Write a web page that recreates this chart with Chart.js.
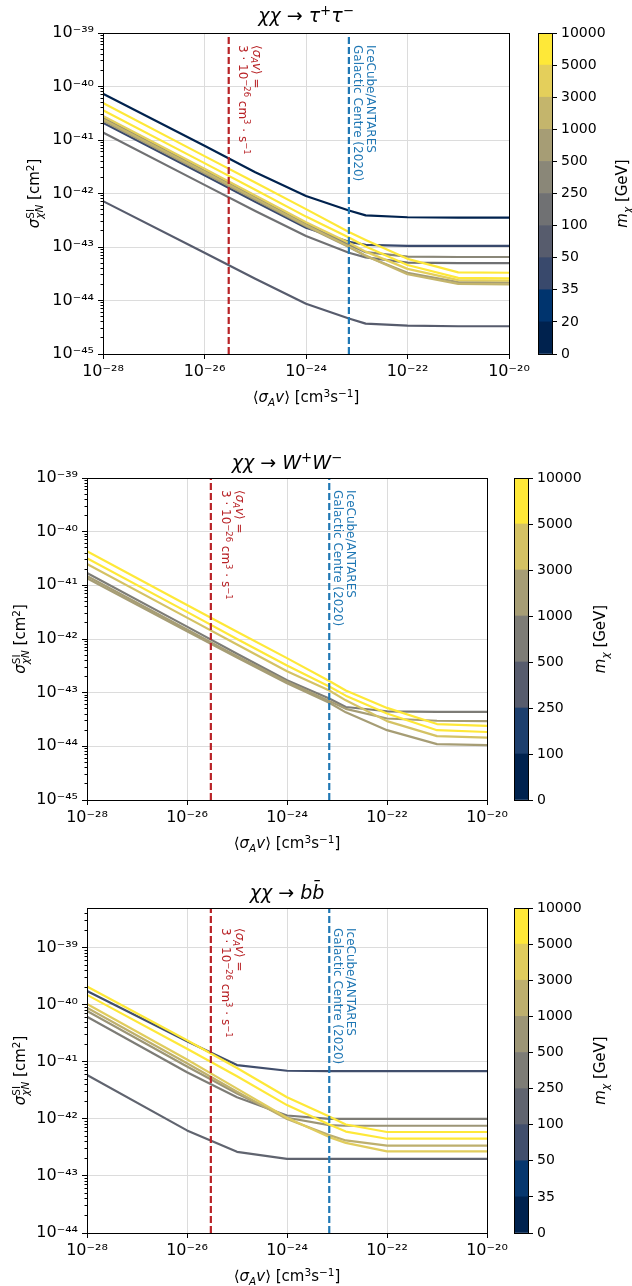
<!DOCTYPE html>
<html><head><meta charset="utf-8">
<script src="https://cdn.jsdelivr.net/npm/chart.js@4.4.1/dist/chart.umd.min.js"></script>
<style>
html,body{margin:0;padding:0;background:#fff;}
#wrap{position:relative;width:632px;height:1286px;overflow:hidden;background:#fff;}
canvas{position:absolute;}
</style></head><body><div id="wrap"></div>
<script>
// ---------------- data ----------------
const X_NODES = [1e-28, 1e-26, 1e-25, 1e-24, 7e-24, 1.5e-23, 1e-22, 1e-21, 1e-20];
const X_TICKS = [1e-28, 1e-26, 1e-24, 1e-22, 1e-20];
const SIGMA_THERMAL = 3e-26;
const SIGMA_ICECUBE = 7e-24;

// chi chi -> tau+ tau-
const TAU_BOUNDS = [0, 20, 35, 50, 100, 250, 500, 1000, 3000, 5000, 10000];
const TAU_MASSES = [10, 35, 50, 100, 250, 500, 1000, 3000, 5000, 10000];
const TAU_10    = [7.3e-41, 7.8e-42, 2.5e-42, 9.0e-43, 4.8e-43, 3.9e-43, 3.6e-43, 3.55e-43, 3.55e-43];
const TAU_35    = [2.1e-41, 2.2e-42, 7.0e-43, 2.3e-43, 1.25e-43, 1.1e-43, 1.05e-43, 1.05e-43, 1.05e-43];
const TAU_50    = [7.2e-43, 7.8e-44, 2.55e-44, 8.7e-45, 4.6e-45, 3.7e-45, 3.4e-45, 3.3e-45, 3.3e-45];
const TAU_100   = [1.38e-41, 1.45e-42, 4.7e-43, 1.6e-43, 7.8e-44, 6.4e-44, 5.1e-44, 5.0e-44, 5.0e-44];
const TAU_250   = [2.6e-41, 2.7e-42, 8.5e-43, 2.7e-43, 1.1e-43, 8.0e-44, 6.6e-44, 6.5e-44, 6.5e-44];
const TAU_500   = [2.3e-41, 2.4e-42, 7.6e-43, 2.45e-43, 1.0e-43, 6.8e-44, 3.3e-44, 2.2e-44, 2.15e-44];
const TAU_1000  = [2.45e-41, 2.55e-42, 8.1e-43, 2.55e-43, 1.02e-43, 6.9e-44, 3.1e-44, 2.05e-44, 2.0e-44];
const TAU_3000  = [2.8e-41, 2.9e-42, 9.2e-43, 2.9e-43, 1.2e-43, 8.2e-44, 3.9e-44, 2.4e-44, 2.35e-44];
const TAU_5000  = [3.6e-41, 3.7e-42, 1.18e-42, 3.7e-43, 1.5e-43, 1.02e-43, 4.6e-44, 2.65e-44, 2.6e-44];
const TAU_10000 = [4.9e-41, 5.0e-42, 1.6e-42, 5.1e-43, 1.9e-43, 1.35e-43, 6.0e-44, 3.35e-44, 3.3e-44];
const TAU_Y_TICKS = [1e-45, 1e-44, 1e-43, 1e-42, 1e-41, 1e-40, 1e-39];

// chi chi -> W+ W-
const WW_BOUNDS = [0, 100, 250, 500, 1000, 3000, 5000, 10000];
const WW_MASSES = [500, 1000, 2000, 3000, 5000, 10000];
const WW_500   = [1.7e-41, 1.7e-42, 5.3e-43, 1.7e-43, 7.8e-44, 5.4e-44, 4.5e-44, 4.4e-44, 4.4e-44];
const WW_1000  = [1.5e-41, 1.5e-42, 4.8e-43, 1.6e-43, 7.0e-44, 5.0e-44, 3.3e-44, 3.0e-44, 2.95e-44];
const WW_2000  = [1.35e-41, 1.4e-42, 4.5e-43, 1.5e-43, 6.5e-44, 4.3e-44, 2.0e-44, 1.1e-44, 1.05e-44];
const WW_3000  = [2.5e-41, 2.5e-42, 7.9e-43, 2.5e-43, 1.1e-43, 7.2e-44, 2.95e-44, 1.55e-44, 1.45e-44];
const WW_5000  = [3.2e-41, 3.2e-42, 1.0e-42, 3.2e-43, 1.3e-43, 8.8e-44, 4.1e-44, 2.0e-44, 1.85e-44];
const WW_10000 = [4.3e-41, 4.3e-42, 1.37e-42, 4.4e-43, 1.65e-43, 1.1e-43, 5.2e-44, 2.6e-44, 2.4e-44];
const WW_Y_TICKS = [1e-45, 1e-44, 1e-43, 1e-42, 1e-41, 1e-40, 1e-39];

// chi chi -> b bbar
const BB_BOUNDS = [0, 35, 50, 100, 250, 500, 1000, 3000, 5000, 10000];
const BB_MASSES = [50, 100, 250, 500, 1000, 3000, 5000, 10000];
const BB_50    = [1.75e-40, 2.3e-41, 8.8e-42, 7.0e-42, 6.9e-42, 6.9e-42, 6.9e-42, 6.9e-42, 6.9e-42];
const BB_100   = [5.9e-42, 6.3e-43, 2.65e-43, 2.0e-43, 2.0e-43, 2.0e-43, 2.0e-43, 2.0e-43, 2.0e-43];
const BB_250   = [6.2e-41, 6.6e-42, 2.4e-42, 1.15e-42, 1.0e-42, 1.0e-42, 1.0e-42, 1.0e-42, 1.0e-42];
const BB_500   = [7.8e-41, 8.3e-42, 2.8e-42, 1.05e-42, 7.8e-43, 7.6e-43, 7.6e-43, 7.6e-43, 7.6e-43];
const BB_1000  = [8.9e-41, 9.5e-42, 3.0e-42, 1.0e-42, 5.2e-43, 4.2e-43, 3.4e-43, 3.4e-43, 3.4e-43];
const BB_3000  = [1.04e-40, 1.1e-41, 3.4e-42, 1.05e-42, 4.8e-43, 3.8e-43, 2.7e-43, 2.7e-43, 2.7e-43];
const BB_5000  = [1.5e-40, 1.7e-41, 5.6e-42, 1.75e-42, 8.0e-43, 6.0e-43, 4.5e-43, 4.5e-43, 4.5e-43];
const BB_10000 = [2.1e-40, 2.4e-41, 7.8e-42, 2.4e-42, 1.1e-42, 8.0e-43, 5.9e-43, 5.9e-43, 5.9e-43];
const BB_Y_TICKS = [1e-44, 1e-43, 1e-42, 1e-41, 1e-40, 1e-39];

// ---------------- styling helpers ----------------
const FAM = "'DejaVu Sans', sans-serif";
const RED = '#b82327';
const BLUE = '#1f77b4';
const GRID = '#dcdcdc';
const LW = 2.2;
const CIV = [[0,34,78],[0,52,110],[57,73,108],[87,92,109],[112,113,115],[138,135,120],[166,157,117],[196,181,108],[228,207,91],[254,232,56]];
function cividis(t){
  const p = Math.max(0, Math.min(1, t)) * 9;
  const i = Math.min(8, Math.floor(p)); const f = p - i;
  const a = CIV[i], b = CIV[i+1];
  return 'rgb(' + [0,1,2].map(k => Math.round(a[k] + (b[k]-a[k])*f)).join(',') + ')';
}
function binIndex(m, bounds){
  const n = bounds.length - 1;
  for (let k = 0; k < n; k++) if (m >= bounds[k] && m < bounds[k+1]) return k;
  return n - 1;
}
function binColor(m, bounds){ return cividis(binIndex(m, bounds) / (bounds.length - 2)); }
const SUP = {'0':'⁰','1':'¹','2':'²','3':'³','4':'⁴','5':'⁵','6':'⁶','7':'⁷','8':'⁸','9':'⁹','-':'⁻'};
function pow10Label(v){
  const e = Math.round(Math.log10(v));
  return '10' + String(e).split('').map(c => SUP[c]).join('');
}
function alignPx(p){ return Math.round(p - 0.5) + 0.5; }

function richLayout(ctx, parts, size){
  let x = 0, lastStart = 0; const items = [];
  for (const p of parts){
    const s = (p.sup || p.sub) ? size * 0.7 : size;
    const font = (p.it ? 'italic ' : '') + s + 'px ' + FAM;
    ctx.font = font;
    const w = ctx.measureText(p.t).width;
    let x0;
    if (p.stack){ x0 = lastStart; x = Math.max(x, x0 + w); }
    else { x0 = x; x += w; lastStart = x0; }
    const dy = p.sup ? -0.38 * size : (p.sub ? 0.24 * size : 0);
    items.push({t: p.t, font, x0, dy});
  }
  return {items, width: x};
}
function drawRich(ctx, parts, size, cx, cy, angle, align, color){
  ctx.save();
  ctx.translate(cx, cy); ctx.rotate(angle || 0);
  const L = richLayout(ctx, parts, size);
  const x0 = align === 'left' ? 0 : -L.width / 2;
  ctx.fillStyle = color || '#000'; ctx.textBaseline = 'alphabetic'; ctx.textAlign = 'left';
  const base = 0.36 * size;
  for (const it of L.items){ ctx.font = it.font; ctx.fillText(it.t, x0 + it.x0, base + it.dy); }
  ctx.restore();
}

const XLABEL = [{t:'⟨'},{t:'σ',it:true},{t:'A',sub:true,it:true},{t:'v',it:true},{t:'⟩'},{t:' [cm'},{t:'3',sup:true},{t:'s'},{t:'−1',sup:true},{t:']'}];
const YLABEL = [{t:'σ',it:true},{t:'SI',sup:true},{t:'χN',sub:true,it:true,stack:true},{t:' [cm'},{t:'2',sup:true},{t:']'}];
const CBLABEL = [{t:'m',it:true},{t:'χ',sub:true,it:true},{t:' [GeV]'}];
const RED_L1 = [{t:'⟨'},{t:'σ',it:true},{t:'A',sub:true,it:true},{t:'v',it:true},{t:'⟩ ='}];
const RED_L2 = [{t:'3 · 10'},{t:'−26',sup:true},{t:' cm'},{t:'3',sup:true},{t:' · s'},{t:'−1',sup:true}];

const PANELS = [
  {id:1, T:0, H:440, left:103, right:509, top:33, bottom:354, ymin:1e-45, ymax:1e-39, yticks:TAU_Y_TICKS,
   bounds:TAU_BOUNDS, masses:TAU_MASSES,
   curves:[TAU_10, TAU_35, TAU_50, TAU_100, TAU_250, TAU_500, TAU_1000, TAU_3000, TAU_5000, TAU_10000],
   title:[{t:'χχ',it:true},{t:' → '},{t:'τ',it:true},{t:'+',sup:true},{t:'τ',it:true},{t:'−',sup:true}],
   titleY:15, xlabelY:397, ylabelX:34, textTop:12, cbLeft:537, cbLabelX:622},
  {id:2, T:440, H:430, left:87, right:487, top:38, bottom:360, ymin:1e-45, ymax:1e-39, yticks:WW_Y_TICKS,
   bounds:WW_BOUNDS, masses:WW_MASSES,
   curves:[WW_500, WW_1000, WW_2000, WW_3000, WW_5000, WW_10000],
   title:[{t:'χχ',it:true},{t:' → '},{t:'W',it:true},{t:'+',sup:true},{t:'W',it:true},{t:'−',sup:true}],
   titleY:22, xlabelY:403, ylabelX:20, textTop:12, cbLeft:513, cbLabelX:600},
  {id:3, T:870, H:416, left:87, right:487, top:38, bottom:363, ymin:1e-44, ymax:5e-39, yticks:BB_Y_TICKS,
   bounds:BB_BOUNDS, masses:BB_MASSES,
   curves:[BB_50, BB_100, BB_250, BB_500, BB_1000, BB_3000, BB_5000, BB_10000],
   title:[{t:'χχ',it:true},{t:' → '},{t:'b',it:true},{t:'b\u0304',it:true}],
   titleY:22, xlabelY:406, ylabelX:20, textTop:20, cbLeft:513, cbLabelX:600}
];

Chart.defaults.font.family = FAM;

function makeCanvas(left, top, w, h){
  const c = document.createElement('canvas');
  c.width = w; c.height = h;
  c.style.left = left + 'px'; c.style.top = top + 'px';
  c.style.width = w + 'px'; c.style.height = h + 'px';
  document.getElementById('wrap').appendChild(c);
  return c;
}

function makePanel(cfg){
  const c = makeCanvas(0, cfg.T, 632, cfg.H);
  const datasets = [];
  datasets.push({data:[{x:SIGMA_THERMAL, y:cfg.ymin},{x:SIGMA_THERMAL, y:cfg.ymax}], borderColor:RED, borderWidth:LW, borderDash:[7,3], pointRadius:0});
  datasets.push({data:[{x:SIGMA_ICECUBE, y:cfg.ymin},{x:SIGMA_ICECUBE, y:cfg.ymax}], borderColor:BLUE, borderWidth:LW, borderDash:[7,3], pointRadius:0});
  for (let i = cfg.curves.length - 1; i >= 0; i--){
    const vals = cfg.curves[i];
    datasets.push({data: X_NODES.map((x, j) => ({x, y: vals[j]})), borderColor: binColor(cfg.masses[i], cfg.bounds),
      borderWidth: LW, pointRadius: 0, tension: 0, borderJoinStyle: 'round'});
  }
  const decor = {
    id: 'decor' + cfg.id,
    afterDatasetsDraw(chart){
      const ctx = chart.ctx, a = chart.chartArea, xs = chart.scales.x, ys = chart.scales.y;
      ctx.save();
      ctx.strokeStyle = '#000'; ctx.lineWidth = 1;
      const L = alignPx(a.left), R = alignPx(a.right), T = alignPx(a.top), B = alignPx(a.bottom);
      ctx.strokeRect(L, T, R - L, B - T);
      // minor y ticks
      ctx.beginPath();
      const d0 = Math.floor(Math.log10(cfg.ymin)), d1 = Math.ceil(Math.log10(cfg.ymax));
      for (let d = d0; d < d1; d++){
        for (let k = 2; k <= 9; k++){
          const v = k * Math.pow(10, d);
          if (v <= cfg.ymin || v >= cfg.ymax) continue;
          const y = alignPx(ys.getPixelForValue(v));
          ctx.moveTo(L - 3, y); ctx.lineTo(L, y);
        }
      }
      ctx.stroke();
      ctx.restore();
      const cx = (a.left + a.right) / 2, cy = (a.top + a.bottom) / 2;
      drawRich(ctx, cfg.title, 19, cx, cfg.titleY, 0, 'center', '#000');
      drawRich(ctx, XLABEL, 15, cx, cfg.xlabelY, 0, 'center', '#000');
      drawRich(ctx, YLABEL, 15, cfg.ylabelX, cy, -Math.PI/2, 'center', '#000');
      const ty = a.top + cfg.textTop;
      const xr = xs.getPixelForValue(SIGMA_THERMAL);
      drawRich(ctx, RED_L1, 12, xr + 29, ty, Math.PI/2, 'left', RED);
      drawRich(ctx, RED_L2, 12, xr + 15, ty, Math.PI/2, 'left', RED);
      const xb = xs.getPixelForValue(SIGMA_ICECUBE);
      drawRich(ctx, [{t:'IceCube/ANTARES'}], 12, xb + 22, ty, Math.PI/2, 'left', BLUE);
      drawRich(ctx, [{t:'Galactic Centre (2020)'}], 12, xb + 9, ty, Math.PI/2, 'left', BLUE);
    }
  };
  new Chart(c, {
    type: 'line',
    data: {datasets},
    options: {
      responsive: false, animation: false, devicePixelRatio: 1, events: [],
      layout: {padding: {left: 0, top: cfg.top, right: 632 - cfg.right, bottom: 0}},
      plugins: {legend: {display: false}, tooltip: {enabled: false}, title: {display: false}},
      scales: {
        x: {type: 'logarithmic', min: 1e-28, max: 1e-20,
          afterBuildTicks: s => { s.ticks = X_TICKS.map(v => ({value: v})); },
          afterFit: s => { s.height = cfg.H - cfg.bottom; },
          ticks: {callback: v => pow10Label(v), font: {family: FAM, size: 16}, color: '#000', maxRotation: 0, minRotation: 0, autoSkip: false, padding: 3},
          grid: {color: GRID, lineWidth: 1, tickLength: 5, tickColor: '#000', tickWidth: 1},
          border: {display: false}},
        y: {type: 'logarithmic', min: cfg.ymin, max: cfg.ymax,
          afterBuildTicks: s => { s.ticks = cfg.yticks.map(v => ({value: v})); },
          afterFit: s => { s.width = cfg.left; },
          ticks: {callback: v => pow10Label(v), font: {family: FAM, size: 16}, color: '#000', autoSkip: false, padding: 4},
          grid: {color: GRID, lineWidth: 1, tickLength: 5, tickColor: '#000', tickWidth: 1},
          border: {display: false}}
      }
    },
    plugins: [decor]
  });
}

function makeCbar(cfg){
  const W = 632 - cfg.cbLeft;
  const c = makeCanvas(cfg.cbLeft, cfg.T, W, cfg.H);
  const n = cfg.bounds.length - 1;
  const datasets = cfg.bounds.slice(0, -1).map((b, i) => ({
    data: [1], backgroundColor: cividis(i / (n - 1)), borderWidth: 0, barPercentage: 1, categoryPercentage: 1
  }));
  const deco = {
    id: 'cb' + cfg.id,
    afterDatasetsDraw(chart){
      const ctx = chart.ctx, a = chart.chartArea;
      ctx.save();
      ctx.strokeStyle = '#000'; ctx.lineWidth = 1;
      const L = alignPx(a.left), R = alignPx(a.right), T = alignPx(a.top), B = alignPx(a.bottom);
      ctx.strokeRect(L, T, R - L, B - T);
      ctx.restore();
      drawRich(ctx, CBLABEL, 15, cfg.cbLabelX - cfg.cbLeft, (a.top + a.bottom) / 2, -Math.PI/2, 'center', '#000');
    }
  };
  new Chart(c, {
    type: 'bar',
    data: {labels: [''], datasets},
    options: {
      responsive: false, animation: false, devicePixelRatio: 1, events: [],
      layout: {padding: {left: 1, top: cfg.top, right: 0, bottom: cfg.H - cfg.bottom}},
      plugins: {legend: {display: false}, tooltip: {enabled: false}},
      scales: {
        x: {display: false, stacked: true},
        y: {position: 'right', stacked: true, min: 0, max: n,
          afterBuildTicks: s => { s.ticks = cfg.bounds.map((b, i) => ({value: i})); },
          afterFit: s => { s.width = W - 15; },
          ticks: {callback: v => String(cfg.bounds[Math.round(v)]), font: {family: FAM, size: 14}, color: '#000', autoSkip: false, padding: 4},
          grid: {drawOnChartArea: false, tickLength: 5, tickColor: '#000', tickWidth: 1},
          border: {display: false}}
      }
    },
    plugins: [deco]
  });
}

PANELS.forEach(p => { makePanel(p); makeCbar(p); });
</script>
</body></html>
